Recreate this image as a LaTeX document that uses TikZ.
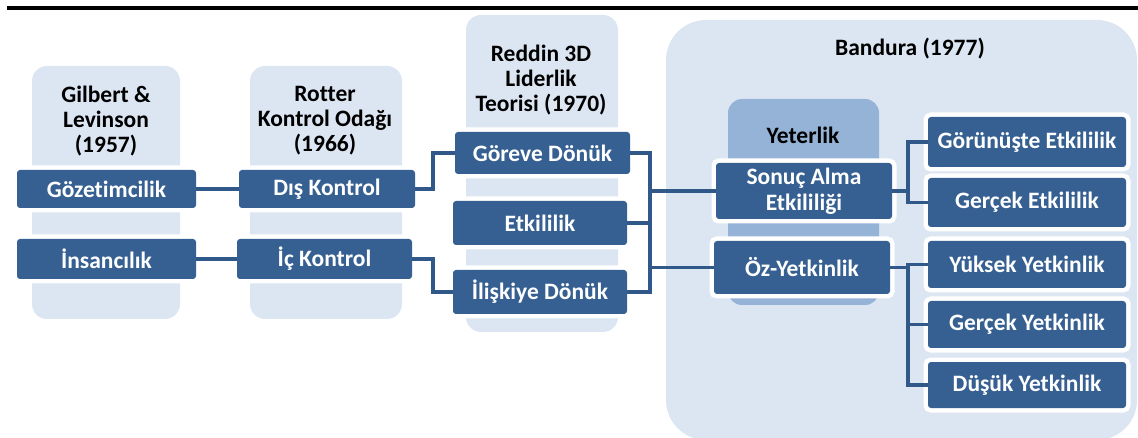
\documentclass[tikz,border=0pt]{standalone}
\usepackage{fontspec}
\setmainfont{Carlito}[Ligatures=NoCommon]
\definecolor{boxblue}{HTML}{366092}
\definecolor{linkblue}{HTML}{30598A}
\definecolor{lightbg}{HTML}{DCE6F2}
\definecolor{midbg}{HTML}{95B3D7}
\tikzset{
    darkbox/.style={fill=boxblue, text=white, rounded corners=3, outer sep=0,
        inner sep=0, align=center, font=\bfseries\fontsize{23.5}{26}\selectfont,
        preaction={draw=white, line width=9pt}},
    headtext/.style={align=center, font=\bfseries\fontsize{23.5}{25}\selectfont},
    link/.style={draw=linkblue, line width=3.5pt}
}
\begin{document}
\begin{tikzpicture}[x=1pt, y=-1pt]
    \useasboundingbox (0,0) rectangle (1138,438);

    % Top rule
    \draw[line width=4pt] (7,8) -- (1138,8);

    % Background panels
    \fill[lightbg, rounded corners=15] (32,66) rectangle (180,319);
    \fill[lightbg, rounded corners=15] (250,66) rectangle (402,319);
    \fill[lightbg, rounded corners=15] (466,15) rectangle (618,332);
    \fill[lightbg, rounded corners=40] (666,20) rectangle (1137,440);
    \fill[midbg, rounded corners=14] (728,99) rectangle (879,305);

    % Headings
    \node[headtext] (gilbert) at (106,121) {Gilbert \&\\Levinson\\(1957)};
    \node[headtext] (rotter) at (325,121) {Rotter\\Kontrol Odağı\\(1966)};
    \node[headtext] (reddin) at (541,80) {Reddin 3D\\Liderlik\\Teorisi (1970)};
    \node[headtext] (bandura) at (910,49) {Bandura (1977)};
    \node[headtext] (yeterlik) at (803,135) {Yeterlik};

    % Boxes
    \node[darkbox, minimum width=179, minimum height=38] (goz) at (106.5,189) {Gözetimcilik};
    \node[darkbox, minimum width=179, minimum height=40] (ins) at (106.5,259) {İnsancılık};
    \node[darkbox, minimum width=176, minimum height=38] (dis) at (327,189) {Dış Kontrol};
    \node[darkbox, minimum width=175, minimum height=40] (ic) at (324.5,259) {İç Kontrol};
    \node[darkbox, minimum width=175, minimum height=42] (gorev) at (542.5,153) {Göreve Dönük};
    \node[darkbox, minimum width=174, minimum height=44] (etk) at (540,223) {Etkililik};
    \node[darkbox, minimum width=174, minimum height=44] (ilis) at (540,292) {İlişkiye Dönük};
    \node[darkbox, minimum width=176, minimum height=56] (sonuc) at (804,191) {Sonuç Alma\\Etkililiği};
    \node[darkbox, minimum width=176, minimum height=53] (oz) at (802,267.5) {Öz-Yetkinlik};
    \node[darkbox, minimum width=198, minimum height=50] (gorun) at (1027,142) {Görünüşte Etkililik};
    \node[darkbox, minimum width=198, minimum height=49] (gerEt) at (1027,202.5) {Gerçek Etkililik};
    \node[darkbox, minimum width=198, minimum height=47] (yuk) at (1027,264.5) {Yüksek Yetkinlik};
    \node[darkbox, minimum width=198, minimum height=47] (gerYe) at (1027,324.5) {Gerçek Yetkinlik};
    \node[darkbox, minimum width=198, minimum height=46] (dus) at (1027,385) {Düşük Yetkinlik};

    % Connectors
    \coordinate (midbus) at (650,223);
    \draw[link] (goz.east) -- (dis.west);
    \draw[link] (ins.east) -- (ic.west);
    \draw[link] (dis.east) -- ++(18,0) |- (gorev.west);
    \draw[link] (ic.east) -- ++(21,0) |- (ilis.west);
    \draw[link] (gorev.east) -| (midbus) |- (ilis.east);
    \draw[link] (etk.east) -- (midbus);
    \draw[link] (midbus |- sonuc.west) -- (sonuc.west);
    \draw[link] (midbus |- oz.west) -- (oz.west);
    \draw[link] (gorun.west) -- ++(-20,0) coordinate (jA) |- (gerEt.west);
    \draw[link] (sonuc.east) -- (sonuc.east -| jA);
    \draw[link] (yuk.west) -- ++(-20,0) coordinate (jB) |- (dus.west);
    \draw[link] (oz.east) -- (oz.east -| jB);
    \draw[link] (gerYe.west) -- (gerYe.west -| jB);
\end{tikzpicture}
\end{document}
